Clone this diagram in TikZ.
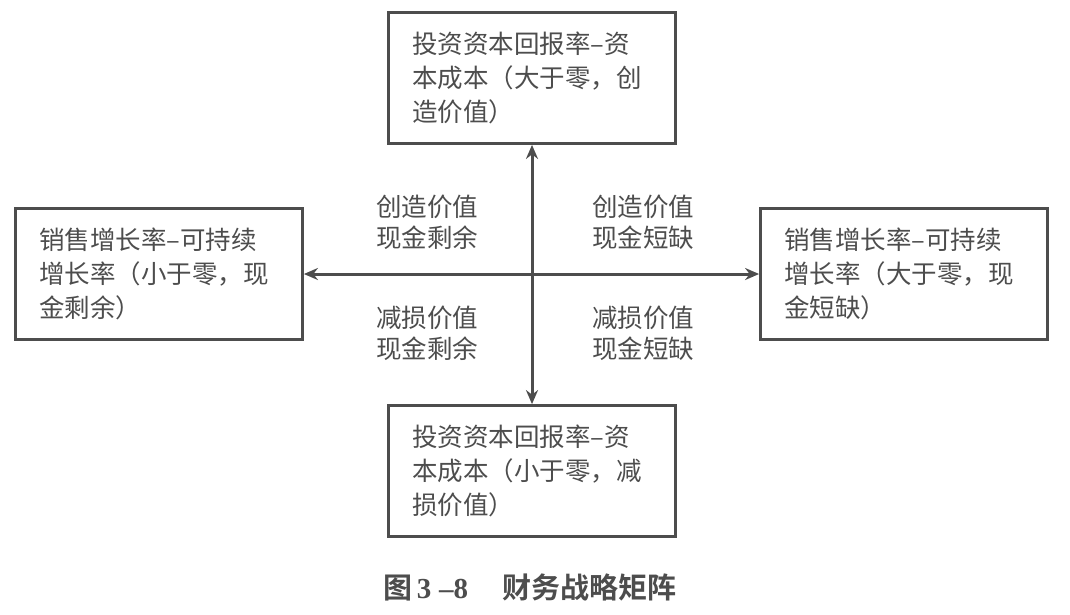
\documentclass[tikz,border=0pt]{standalone}
\usepackage{fontspec}
\newfontfamily\cjk{Noto Sans CJK SC}
\newfontfamily\cjkb{Noto Sans CJK SC Bold}
\newfontfamily\numb{Liberation Serif}
\usetikzlibrary{arrows.meta}
\definecolor{ink}{HTML}{4D4D4D}
\tikzset{
  box/.style={draw=ink, line width=2.8pt, minimum width=287pt, minimum height=131pt,
    text width=240pt, align=left, inner sep=0pt, text=ink,
    font=\cjk\fontsize{25.5pt}{34pt}\selectfont},
  quad/.style={align=center, text=ink, inner sep=0pt,
    font=\cjk\fontsize{25.5pt}{31pt}\selectfont},
  axis/.style={draw=ink, line width=3pt, {Stealth[length=14pt,width=12pt]}-{Stealth[length=14pt,width=12pt]}}
}
\begin{document}
\begin{tikzpicture}[x=1pt,y=-1pt]
\useasboundingbox (0,0) rectangle (1070,614);
\node[box] (top) at (532,78) {投资资本回报率–资\\本成本（大于零，创\\造价值）};
\node[box] (left) at (159,274) {销售增长率–可持续\\增长率（小于零，现\\金剩余）};
\node[box] (right) at (904,274) {销售增长率–可持续\\增长率（大于零，现\\金短缺）};
\node[box] (bottom) at (532,471) {投资资本回报率–资\\本成本（小于零，减\\损价值）};
\draw[axis] (top.south) -- (bottom.north);
\draw[axis] (left.east) -- (right.west);
\node[quad] (q1) at (427,222) {创造价值\\现金剩余};
\node[quad] (q2) at (643,222) {创造价值\\现金短缺};
\node[quad] (q3) at (427,333) {减损价值\\现金剩余};
\node[quad] (q4) at (643,333) {减损价值\\现金短缺};
\node[text=ink, inner sep=0pt] (cap) at (530,587)
  {\cjkb\fontsize{29pt}{32pt}\selectfont 图\hspace{4pt}{\numb\bfseries 3\hspace{8pt}–8}\hspace{34pt}财务战略矩阵};
\end{tikzpicture}
\end{document}
